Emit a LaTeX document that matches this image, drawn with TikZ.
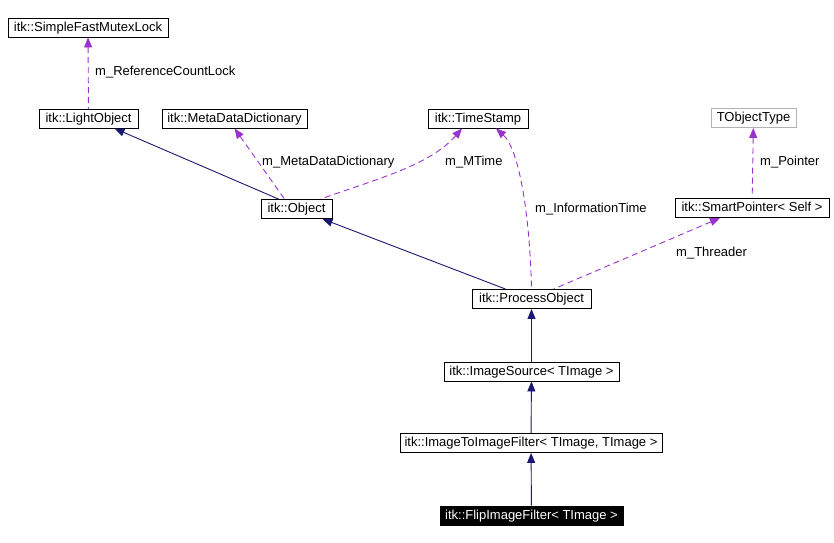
\documentclass[tikz,border=0pt]{standalone}
\usepackage{fontspec}
\setmainfont{Liberation Sans}
\usetikzlibrary{arrows.meta}
\definecolor{inhcol}{RGB}{25,25,112}
\definecolor{usecol}{RGB}{154,50,205}
\tikzset{
  cls/.style={draw,fill=white,line width=0.9pt,inner sep=0pt,minimum height=19pt,text height=9.5pt,text depth=2.5pt,font=\fontsize{13}{15}\selectfont},
  inh/.style={inhcol,line width=0.9pt,{Triangle[length=10pt,width=8pt]}-},
  use/.style={usecol,line width=0.9pt,dash pattern=on 6pt off 4pt,{Triangle[length=10pt,width=8pt]}-},
  lbl/.style={font=\fontsize{13}{15}\selectfont,inner sep=0pt,anchor=west}
}
\begin{document}
\begin{tikzpicture}[x=1pt,y=-1pt]
\useasboundingbox (0,0) rectangle (834,542);
% classes
\node[cls,minimum width=160pt] (mutex) at (88,27.5) {itk::SimpleFastMutexLock};
\node[cls,minimum width=99pt] (light) at (88.5,118.5) {itk::LightObject};
\node[cls,minimum width=145pt] (meta) at (234.5,118.5) {itk::MetaDataDictionary};
\node[cls,minimum width=100pt] (stamp) at (478,118.5) {itk::TimeStamp};
\node[cls,minimum width=85pt,draw=gray!60] (tobj) at (753.5,118) {TObjectType};
\node[cls,minimum width=71pt] (obj) at (296.5,209) {itk::Object};
\node[cls,minimum width=154pt] (smart) at (752,208) {itk::SmartPointer< Self >};
\node[cls,minimum width=119pt] (proc) at (531.5,299) {itk::ProcessObject};
\node[cls,minimum width=175pt] (src) at (531.5,371.5) {itk::ImageSource< TImage >};
\node[cls,minimum width=262pt] (i2i) at (531,443) {itk::ImageToImageFilter< TImage, TImage >};
\node[cls,minimum width=183pt,fill=black,text=white] (flip) at (531.5,515.5) {itk::FlipImageFilter< TImage >};
% members
\draw[use] (mutex) -- (light);
\node[lbl] (l1) at (95,72) {m\_ReferenceCountLock};
\draw[use] (meta.south) -- ([xshift=-12pt]obj.north);
\node[lbl] (l2) at (262,162) {m\_MetaDataDictionary};
\draw[use] ([xshift=-16pt]stamp.south) .. controls (430,165) and (380,178) .. ([xshift=24pt]obj.north);
\node[lbl] (l3) at (445,162) {m\_MTime};
\draw[use] ([xshift=18pt]stamp.south) .. controls (520,150) and (530,220) .. (proc.north);
\node[lbl] (l4) at (535,209) {m\_InformationTime};
\draw[use] (tobj) -- (smart);
\node[lbl] (l5) at (760,162) {m\_Pointer};
\draw[use] ([xshift=-32pt]smart.south) -- ([xshift=22pt]proc.north);
\node[lbl] (l6) at (676,253) {m\_Threader};
% inheritance
\draw[inh] ([xshift=26pt]light.south) -- ([xshift=-18pt]obj.north);
\draw[inh] ([xshift=26pt]obj.south) -- ([xshift=-26pt]proc.north);
\draw[inh] (proc) -- (src);
\draw[inh] (src) -- (i2i);
\draw[inh] (i2i) -- (flip);
\end{tikzpicture}
\end{document}
